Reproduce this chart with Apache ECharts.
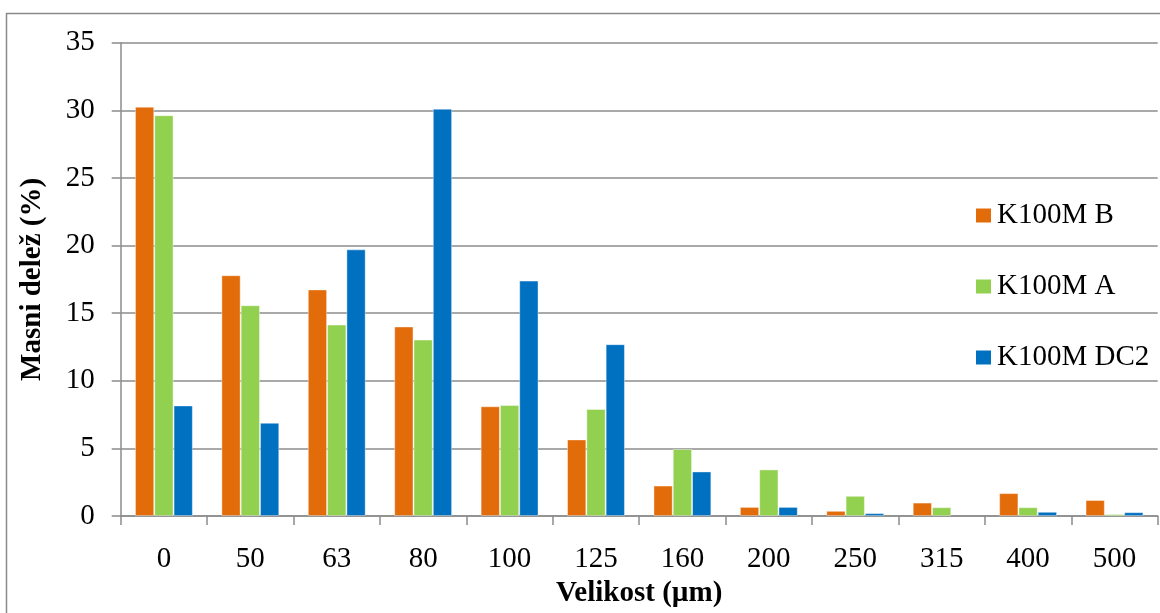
<!DOCTYPE html>
<html>
<head>
<meta charset="utf-8">
<script src="https://cdn.jsdelivr.net/npm/echarts@6/dist/echarts.min.js"></script>
<style>
  html, body { margin: 0; padding: 0; background: #fff; }
  #chart { width: 1160px; height: 613px; }
</style>
</head>
<body>
<div id="chart"></div>
<script>
// Particle size classes (µm)
const categories = ['0', '50', '63', '80', '100', '125', '160', '200', '250', '315', '400', '500'];

// Mass fraction (%) per size class
const k100mB   = [30.27, 17.81, 16.76, 14.02, 8.12, 5.67, 2.26, 0.68, 0.39, 1.00, 1.70, 1.19];
const k100mA   = [29.64, 15.59, 14.16, 13.05, 8.21, 7.92, 4.96, 3.45, 1.50, 0.66, 0.66, 0.15];
const k100mDC2 = [8.18, 6.90, 19.72, 30.12, 17.41, 12.71, 3.30, 0.68, 0.22, 0, 0.32, 0.29];

const seriesNames = ['K100M B', 'K100M A', 'K100M DC2'];
const colors = ['#E36C0A', '#92D050', '#0070C0'];

const FONT = "'Liberation Serif', 'Times New Roman', serif";
const GRAY = '#8c8c8c';

const chart = echarts.init(document.getElementById('chart'), null, { renderer: 'canvas' });

// A thin light edge only on bars that actually have height
const makeBar = (name, data, color) => ({
  name,
  type: 'bar',
  data: data.map(v => ({
    value: v,
    itemStyle: v > 0 ? { borderColor: 'rgba(255,255,255,0.4)', borderWidth: 1 } : { borderWidth: 0 }
  })),
  barGap: '0%',
  barCategoryGap: '33%',
  itemStyle: { color },
  emphasis: { disabled: true }
});

chart.setOption({
  animation: false,
  textStyle: { fontFamily: FONT },
  graphic: [{
    type: 'rect',
    shape: { x: 6.5, y: 13.5, width: 1200, height: 700 },
    style: { fill: 'none', stroke: '#8a8a8a', lineWidth: 1.5 },
    silent: true
  }],
  grid: { left: 120.7, right: 2.3, top: 42.7, bottom: 89.7, containLabel: false },
  legend: {
    orient: 'vertical',
    left: 971,
    top: 196,
    itemWidth: 15,
    itemHeight: 14,
    itemGap: 42,
    icon: 'rect',
    selectedMode: false,
    itemStyle: { borderWidth: 0 },
    textStyle: { fontFamily: FONT, fontSize: 29, color: '#000', lineHeight: 29, padding: [0, 0, 0, 1] },
    data: seriesNames
  },
  xAxis: {
    type: 'category',
    data: categories,
    name: 'Velikost (µm)',
    nameLocation: 'middle',
    nameGap: 60,
    nameTextStyle: { fontFamily: FONT, fontSize: 29, fontWeight: 'bold', color: '#000' },
    axisLine: { lineStyle: { color: GRAY, width: 1.7 } },
    axisTick: { show: true, length: 9, lineStyle: { color: GRAY, width: 1.5 } },
    axisLabel: { fontFamily: FONT, fontSize: 29, color: '#000', margin: 29 },
    splitLine: { show: false }
  },
  yAxis: {
    type: 'value',
    min: 0,
    max: 35,
    interval: 5,
    name: 'Masni delež (%)',
    nameLocation: 'middle',
    nameGap: 74,
    nameTextStyle: { fontFamily: FONT, fontSize: 29, fontWeight: 'bold', color: '#000' },
    axisLine: { show: true, lineStyle: { color: GRAY, width: 1.5 } },
    axisTick: { show: true, length: 9, lineStyle: { color: GRAY, width: 1.5 } },
    axisLabel: { fontFamily: FONT, fontSize: 29, color: '#000', margin: 26 },
    splitLine: { show: true, lineStyle: { color: GRAY, width: 1.5 } }
  },
  series: [
    makeBar(seriesNames[0], k100mB, colors[0]),
    makeBar(seriesNames[1], k100mA, colors[1]),
    makeBar(seriesNames[2], k100mDC2, colors[2])
  ]
});
</script>
</body>
</html>
